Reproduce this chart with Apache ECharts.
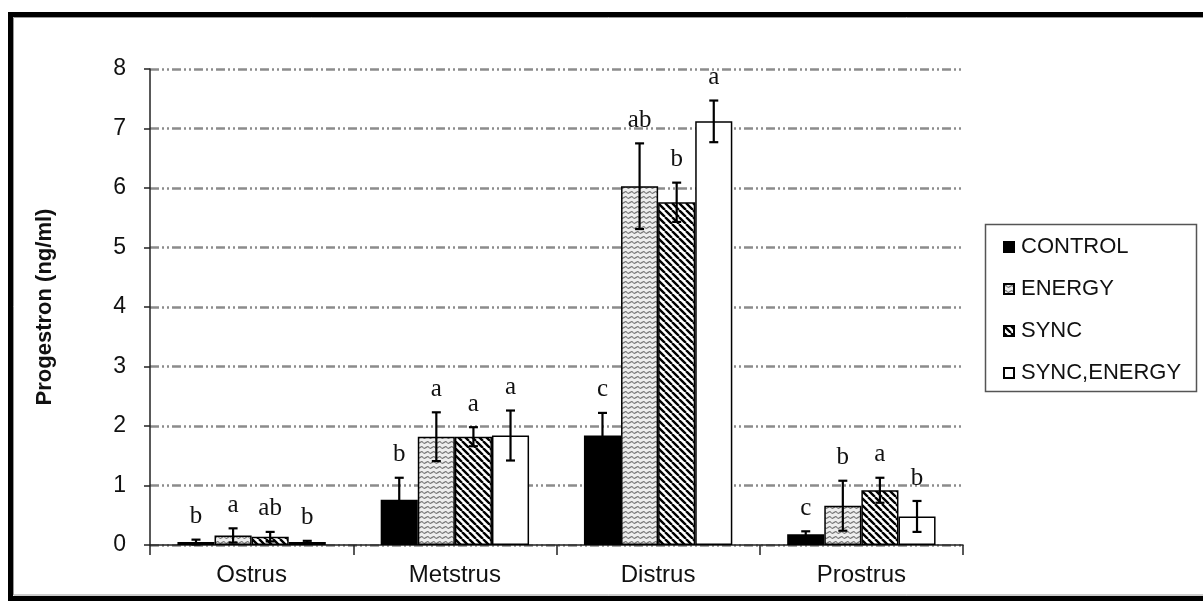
<!DOCTYPE html>
<html><head><meta charset="utf-8">
<script src="https://cdn.jsdelivr.net/npm/echarts@6/dist/echarts.min.js"></script>
<style>html,body{margin:0;padding:0;background:#fff}#c{width:1203px;height:601px}</style>
</head><body><div id="c"></div>
<script>
const categories = ['Ostrus', 'Metstrus', 'Distrus', 'Prostrus'];
const seriesNames = ['CONTROL', 'ENERGY', 'SYNC', 'SYNC,ENERGY'];
const control = [0.05, 0.76, 1.84, 0.18];
const controlErr = [0.04, 0.37, 0.38, 0.05];
const energy = [0.16, 1.82, 6.03, 0.66];
const energyErr = [0.12, 0.41, 0.72, 0.42];
const sync = [0.14, 1.82, 5.76, 0.92];
const syncErr = [0.08, 0.16, 0.33, 0.21];
const syncEnergy = [0.05, 1.84, 7.12, 0.48];
const syncEnergyErr = [0.02, 0.42, 0.35, 0.26];
const controlLetters = ['b', 'b', 'c', 'c'];
const energyLetters = ['a', 'a', 'ab', 'b'];
const syncLetters = ['ab', 'a', 'b', 'a'];
const syncEnergyLetters = ['b', 'a', 'a', 'b'];
const yTicks = { min: 0, max: 8, interval: 1 };

const GAP = 0.27;
const SANS = '"Liberation Sans", Arial, sans-serif';
const SERIF = '"Liberation Serif", "Times New Roman", serif';

function energyPattern() {
  const c = document.createElement('canvas'); c.width = 6; c.height = 5;
  const g = c.getContext('2d');
  g.fillStyle = '#eeeeee'; g.fillRect(0, 0, 6, 5);
  g.strokeStyle = '#7a7a7a'; g.lineWidth = 1.1;
  g.beginPath(); g.moveTo(0, 3); g.quadraticCurveTo(1.5, 0.5, 3, 2.5); g.quadraticCurveTo(4.5, 4.5, 6, 2); g.stroke();
  return c;
}
function syncPattern() {
  const s = 7;
  const c = document.createElement('canvas'); c.width = s; c.height = s;
  const g = c.getContext('2d');
  g.fillStyle = '#fff'; g.fillRect(0, 0, s, s);
  g.strokeStyle = '#000'; g.lineWidth = 2.4;
  g.beginPath();
  for (let k = -1; k <= 1; k++) { g.moveTo(k * s, 0); g.lineTo(k * s + s, s); }
  g.stroke();
  return c;
}

const fills = ['#000', { image: energyPattern(), repeat: 'repeat' }, { image: syncPattern(), repeat: 'repeat' }, '#fff'];
const values = [control, energy, sync, syncEnergy];
const errs = [controlErr, energyErr, syncErr, syncEnergyErr];
const letters = [controlLetters, energyLetters, syncLetters, syncEnergyLetters];

const barSeries = seriesNames.map((n, gi) => ({
  type: 'bar', name: n, data: values[gi], barGap: '0%', barCategoryGap: (GAP * 100) + '%',
  itemStyle: { color: fills[gi], borderColor: '#000', borderWidth: 1.5 },
  emphasis: { disabled: true }, z: 2
}));

const errSeries = seriesNames.map((n, gi) => ({
  type: 'custom', name: 'err' + gi, silent: true, z: 5,
  data: values[gi].map((v, i) => [i, v, errs[gi][i]]),
  encode: { x: 0, y: 1 },
  renderItem: function (params, api) {
    const ci = api.value(0), v = api.value(1), e = api.value(2);
    const bandW = api.size([1, 0])[0];
    const barW = bandW * (1 - GAP) / 4;
    const cx = api.coord([ci, 0])[0] + (gi - 1.5) * barW;
    const yTop = api.coord([ci, v + e])[1];
    const yBot = api.coord([ci, Math.max(v - e, 0)])[1];
    const cap = 4.5;
    const st = { stroke: '#000', lineWidth: 2.2 };
    return {
      type: 'group', children: [
        { type: 'line', shape: { x1: cx, y1: yTop, x2: cx, y2: yBot }, style: st },
        { type: 'line', shape: { x1: cx - cap, y1: yTop, x2: cx + cap, y2: yTop }, style: st },
        { type: 'line', shape: { x1: cx - cap, y1: yBot, x2: cx + cap, y2: yBot }, style: st },
        { type: 'text', x: cx, y: yTop - 23, style: { text: letters[gi][params.dataIndex], fill: '#111', font: '25px ' + SERIF, align: 'center', verticalAlign: 'middle' } }
      ]
    };
  }
}));

const chart = echarts.init(document.getElementById('c'), null, { renderer: 'canvas' });
chart.setOption({
  backgroundColor: '#fff',
  animation: false,
  grid: { left: 150, right: 240, top: 69, bottom: 56, containLabel: false },
  legend: {
    data: seriesNames, orient: 'vertical', left: 1003, top: 236, padding: 0,
    itemWidth: 10, itemHeight: 10, itemGap: 20, icon: 'rect', selectedMode: false,
    textStyle: { fontSize: 22, lineHeight: 21.5, fontFamily: SANS, color: '#111', padding: [0, 0, 0, 2] }
  },
  xAxis: {
    type: 'category', data: categories,
    axisLine: { show: true, lineStyle: { color: '#222', width: 1.5 } },
    axisTick: { show: true, length: 10, interval: 0, lineStyle: { color: '#222', width: 1.5 } },
    axisLabel: { fontSize: 24, fontFamily: SANS, color: '#111', margin: 18 },
    splitLine: { show: false }
  },
  yAxis: {
    type: 'value', min: yTicks.min, max: yTicks.max, interval: yTicks.interval,
    name: 'Progestron (ng/ml)', nameLocation: 'middle', nameGap: 94, nameRotate: 90,
    nameTextStyle: { fontSize: 22, fontWeight: 'bold', fontFamily: SANS, color: '#111' },
    axisLine: { show: true, lineStyle: { color: '#222', width: 1.5 } },
    axisTick: { show: true, length: 6, lineStyle: { color: '#222', width: 1.5 } },
    axisLabel: { fontSize: 23, fontFamily: SANS, color: '#111', margin: 24 },
    splitLine: { show: true, lineStyle: { color: '#8c8c8c', width: 2.5, type: [9, 3, 2, 3, 2, 3] } }
  },
  graphic: [
    { type: 'rect', silent: true, shape: { x: 10.5, y: 14.5, width: 1200, height: 584 }, style: { fill: 'none', stroke: '#000', lineWidth: 5 } },
    { type: 'rect', silent: true, shape: { x: 13.5, y: 17.5, width: 1200, height: 577.5 }, style: { fill: 'none', stroke: '#999', lineWidth: 1 } },
    { type: 'rect', silent: true, shape: { x: 985.5, y: 224.5, width: 211, height: 167 }, style: { fill: 'none', stroke: '#555', lineWidth: 1.5 } }
  ],
  series: barSeries.concat(errSeries)
});
</script></body></html>
